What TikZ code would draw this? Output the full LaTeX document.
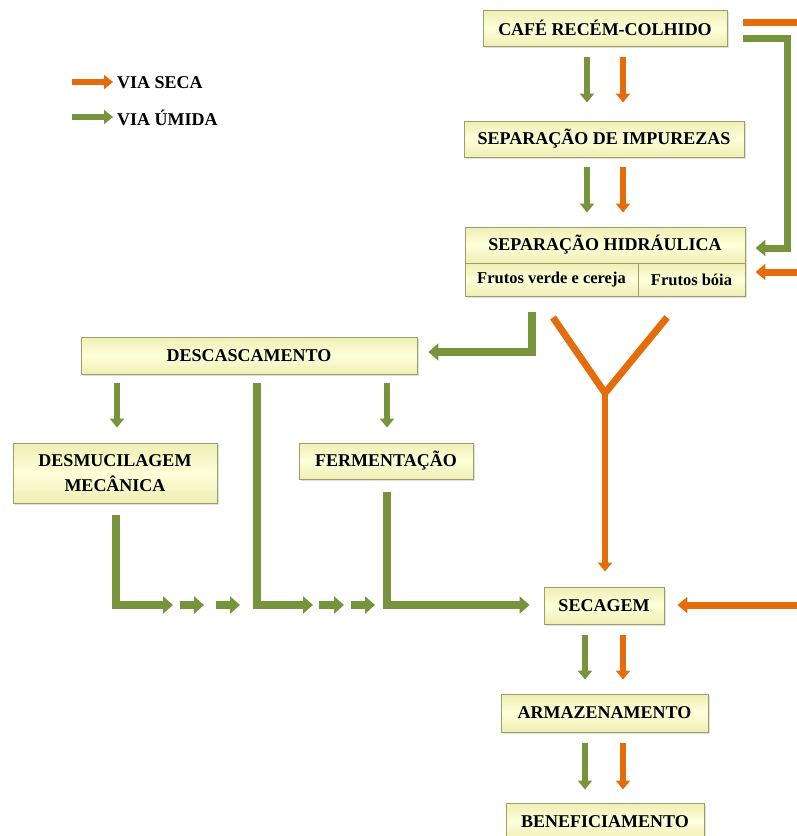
\documentclass[tikz,border=0pt]{standalone}
\usepackage{fontspec}
\setmainfont{Liberation Serif}
\usetikzlibrary{arrows.meta,calc,shadows}
\definecolor{vgreen}{HTML}{77933C}
\definecolor{vorange}{HTML}{E46C0A}
\definecolor{boxedge}{HTML}{9E9E68}
\definecolor{boxlight}{HTML}{FFFFDA}
\definecolor{boxdark}{HTML}{EEEEB4}
\begin{document}
\begin{tikzpicture}[x=1pt,y=-1pt,
  box/.style={draw=boxedge, line width=0.9pt, top color=boxdark, bottom color=boxdark,
    middle color=boxlight, inner sep=0pt, align=center, text=black,
    font=\fontsize{18}{25}\selectfont\bfseries,
    drop shadow={shadow xshift=1.5pt,shadow yshift=-1.5pt,opacity=0.25}},
  smallbox/.style={box, font=\fontsize{16.5}{20}\selectfont\bfseries},
  legendtext/.style={inner sep=0pt, anchor=west, text=black, font=\fontsize{18}{22}\selectfont\bfseries},
  garrow/.style={draw=vgreen, line width=6pt, -{Triangle[width=14pt,length=9pt]}},
  oarrow/.style={draw=vorange, line width=6pt, -{Triangle[width=14pt,length=9pt]}},
  gline/.style={draw=vgreen, line width=7pt},
  oline/.style={draw=vorange, line width=7pt},
  gbig/.style={draw=vgreen, line width=7.5pt, -{Triangle[width=17pt,length=10pt]}},
  obig/.style={draw=vorange, line width=7pt, -{Triangle[width=16pt,length=10pt]}},
]
\useasboundingbox (0,0) rectangle (797,836);

% legend
\node[legendtext] (lseca) at (117,83) {VIA SECA};
\node[legendtext] (lumida) at (117,118) {VIA ÚMIDA};
\coordinate (ls0) at (72,82);
\coordinate (lu0) at (72,117);
\draw[oarrow] (ls0) -- ([xshift=-4pt,yshift=1pt]lseca.west);
\draw[garrow] (lu0) -- ([xshift=-4pt,yshift=1pt]lumida.west);

% boxes
\node[box, minimum width=244pt, minimum height=36pt] (cafe) at (605,28) {CAFÉ RECÉM-COLHIDO};
\node[box, minimum width=280pt, minimum height=36pt] (impurezas) at (604,139) {SEPARAÇÃO DE IMPUREZAS};
\node[box, minimum width=280pt, minimum height=36pt] (hidraulica) at (605,245) {SEPARAÇÃO HIDRÁULICA};
\node[smallbox, minimum width=173pt, minimum height=33pt] (verde) at (551.5,279.5) {Frutos verde e cereja};
\node[smallbox, minimum width=107pt, minimum height=33pt] (boia) at (691.5,279.5) {Frutos bóia};
\node[box, minimum width=336pt, minimum height=37pt] (descasc) at (249,355.5) {DESCASCAMENTO};
\node[box, minimum width=204pt, minimum height=60pt] (desmuc) at (115,473) {DESMUCILAGEM\\MECÂNICA};
\node[box, minimum width=174pt, minimum height=36pt] (ferment) at (386,461) {FERMENTAÇÃO};
\node[box, minimum width=120pt, minimum height=37pt] (secagem) at (604,605.5) {SECAGEM};
\node[box, minimum width=207pt, minimum height=38pt] (armaz) at (604.5,713) {ARMAZENAMENTO};
\node[box, minimum width=198pt, minimum height=37pt] (benef) at (605,821.5) {BENEFICIAMENTO};

% vertical pairs
\draw[garrow] ([xshift=-18pt,yshift=-11pt]cafe.south) -- ([xshift=-17pt,yshift=18pt]impurezas.north);
\draw[oarrow] ([xshift=18pt,yshift=-11pt]cafe.south) -- ([xshift=19pt,yshift=18pt]impurezas.north);
\draw[garrow] ([xshift=-17pt,yshift=-10pt]impurezas.south) -- ([xshift=-18pt,yshift=14pt]hidraulica.north);
\draw[oarrow] ([xshift=19pt,yshift=-10pt]impurezas.south) -- ([xshift=18pt,yshift=14pt]hidraulica.north);
\draw[garrow] ([xshift=-19pt,yshift=-11pt]secagem.south) -- ([xshift=-19.5pt,yshift=14pt]armaz.north);
\draw[oarrow] ([xshift=19pt,yshift=-11pt]secagem.south) -- ([xshift=18.5pt,yshift=14pt]armaz.north);
\draw[garrow] ([xshift=-19.5pt,yshift=-11pt]armaz.south) -- ([xshift=-20pt,yshift=13pt]benef.north);
\draw[oarrow] ([xshift=18.5pt,yshift=-11pt]armaz.south) -- ([xshift=18pt,yshift=13pt]benef.north);

% right side
\coordinate (oR1) at (805,22);
\coordinate (oR2) at (805,272);
\coordinate (oR3) at (805,605);
\draw[oline] ([xshift=16pt,yshift=6pt]cafe.east) -- (oR1);
\draw[gline, -{Triangle[width=16pt,length=10pt]}] ([xshift=16pt,yshift=-10pt]cafe.east) -- ++(44,0) |- ([xshift=10pt,yshift=-3pt]hidraulica.east);
\draw[obig] (oR2) -- ([xshift=10pt,yshift=7.5pt]boia.east);
\draw[obig] (oR3) -- ([xshift=13pt,yshift=0.5pt]secagem.east);

% hydraulic -> descascamento
\draw[gbig] ([xshift=-19.5pt,yshift=-16pt]verde.south) |- ([xshift=11pt,yshift=3.5pt]descasc.east);

% Y shape
\coordinate (yj) at (605,393);
\draw[oline, line join=round] ([xshift=1.5pt,yshift=-21pt]verde.south) -- (yj) -- ([xshift=-24.5pt,yshift=-21pt]boia.south);
\draw[oarrow] (yj) -- ([xshift=1pt,yshift=15pt]secagem.north);

% descascamento branches
\draw[garrow] ([xshift=-132pt,yshift=-9pt]descasc.south) -- ([xshift=2pt,yshift=15pt]desmuc.north);
\draw[garrow] ([xshift=138pt,yshift=-9pt]descasc.south) -- ([xshift=1pt,yshift=15pt]ferment.north);

% lines to secagem
\coordinate (t1) at (173,605);
\coordinate (t2) at (313,605);
\draw[gbig] ([xshift=1pt,yshift=-12pt]desmuc.south) |- (t1);
\draw[gbig] ([xshift=8pt,yshift=-9pt]descasc.south) |- (t2);
\draw[gbig] ([xshift=1pt,yshift=-13pt]ferment.south) |- ([xshift=-14pt,yshift=0.5pt]secagem.west);

% dashed arrow chains
\coordinate (a1) at (180,605); \coordinate (b1) at (204,605);
\coordinate (a2) at (216,605); \coordinate (b2) at (240,605);
\coordinate (a3) at (319,605); \coordinate (b3) at (344,605);
\coordinate (a4) at (351,605); \coordinate (b4) at (375,605);
\draw[gbig] (a1) -- (b1);
\draw[gbig] (a2) -- (b2);
\draw[gbig] (a3) -- (b3);
\draw[gbig] (a4) -- (b4);
\end{tikzpicture}
\end{document}
